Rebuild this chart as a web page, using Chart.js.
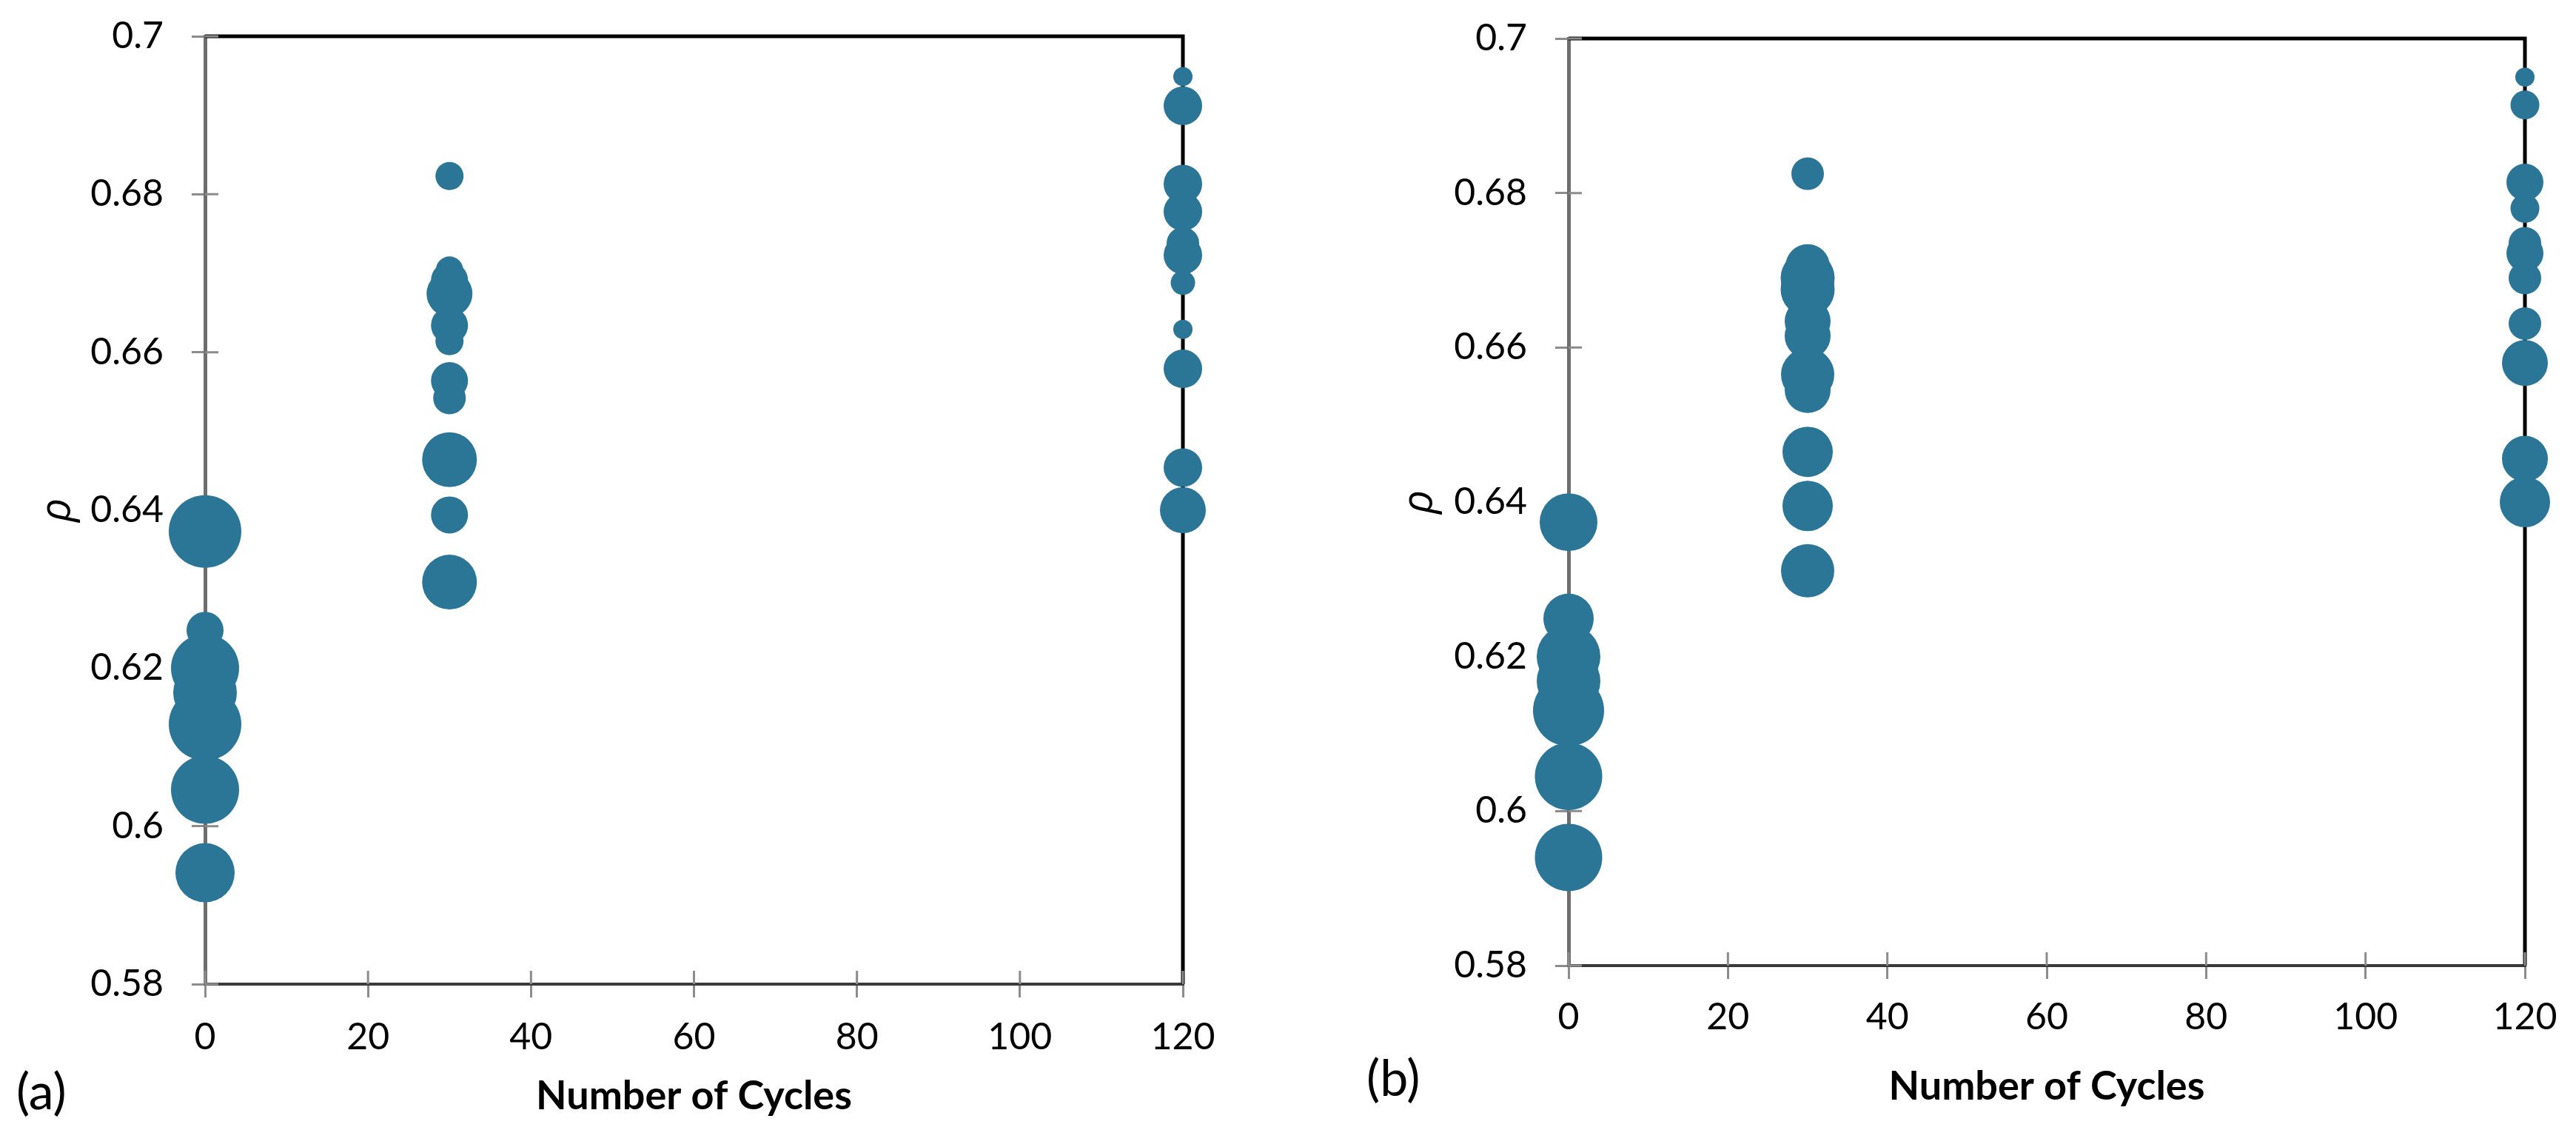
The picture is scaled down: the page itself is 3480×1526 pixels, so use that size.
<!DOCTYPE html>
<html><head><meta charset="utf-8">
<script src="https://cdn.jsdelivr.net/npm/chart.js@4.4.1/dist/chart.umd.min.js"></script>
<style>
html,body{margin:0;padding:0;background:#fff;width:3480px;height:1526px;overflow:hidden;position:relative;}
canvas{position:absolute;top:0;}
#ca{left:0}
#cb{left:1740px}
.lbl{position:absolute;font-family:Lato,'Open Sans',sans-serif;font-size:68px;line-height:1;color:#000;}
</style></head><body>
<canvas id="ca" width="1740" height="1526"></canvas>
<canvas id="cb" width="1740" height="1526"></canvas>
<div class="lbl" style="left:22px;top:1438px">(a)</div>
<div class="lbl" style="left:1846px;top:1420px">(b)</div>
<script>
// ---- data ----
const cycles = [0, 30, 120];
const xTicks = [0, 20, 40, 60, 80, 100, 120];
const yTicks = [0.58, 0.6, 0.62, 0.64, 0.66, 0.68, 0.7];
const xTitle = 'Number of Cycles';
const yTitle = 'ρ';

// panel (a)
const a0Rho   = [0.6373, 0.6248, 0.6200, 0.6169, 0.6129, 0.6046, 0.5941];
const a0Size  = [49, 25, 46, 43, 49, 46, 40];
const a30Rho  = [0.6823, 0.6704, 0.6691, 0.6674, 0.6634, 0.6614, 0.6564, 0.6542, 0.6464, 0.6394, 0.6309];
const a30Size = [19, 18.5, 25, 31, 25, 19, 25, 22, 37, 25, 37];
const a120Rho = [0.6949, 0.6912, 0.6813, 0.6778, 0.6738, 0.6723, 0.6688, 0.6629, 0.6579, 0.6454, 0.6400];
const a120Size= [13, 26, 26, 26, 22, 26, 16.5, 13, 26, 26, 31];

// panel (b)
const b0Rho   = [0.6374, 0.6249, 0.6200, 0.6168, 0.6130, 0.6045, 0.5940];
const b0Size  = [39, 34, 43, 43, 48, 45.5, 45.5];
const b30Rho  = [0.6825, 0.6705, 0.6690, 0.6675, 0.6634, 0.6615, 0.6565, 0.6545, 0.6465, 0.6395, 0.6311];
const b30Size = [22, 30, 36.5, 36.5, 31, 31, 36, 31, 34, 34, 36];
const b120Rho = [0.6950, 0.6914, 0.6814, 0.6780, 0.6735, 0.6722, 0.6690, 0.6631, 0.6580, 0.6456, 0.6400];
const b120Size= [13, 19.5, 25, 19.5, 22, 25, 22, 22, 31, 31, 34];

// ---- chart ----
const RADIUS_SCALE = 1;
const COLOR = '#2b7596';
const FONT = "Lato, 'Open Sans', sans-serif";

function points(groups) {
  const pts = [];
  groups.forEach(([cx, rho, size]) => {
    rho.forEach((v, i) => pts.push({x: cx, y: v, r: size[i] * RADIUS_SCALE}));
  });
  return pts;
}

const frame = {
  id: 'frame',
  beforeDatasetsDraw(chart) {
    const {ctx, chartArea: a, scales: {x, y}} = chart;
    ctx.save();
    // black plot border (top, right)
    ctx.strokeStyle = '#000';
    ctx.lineWidth = 5;
    ctx.beginPath();
    ctx.moveTo(a.left, a.top);
    ctx.lineTo(a.right, a.top);
    ctx.lineTo(a.right, a.bottom);
    ctx.stroke();
    // inner halves of cross ticks
    ctx.strokeStyle = '#8c8c8c';
    ctx.lineWidth = 3;
    ctx.beginPath();
    x.ticks.forEach(t => { const p = x.getPixelForValue(t.value); ctx.moveTo(p, a.bottom); ctx.lineTo(p, a.bottom - 18); });
    y.ticks.forEach(t => { const p = y.getPixelForValue(t.value); ctx.moveTo(a.left, p); ctx.lineTo(a.left + 18, p); });
    ctx.stroke();
    ctx.restore();
  }
};

function noPad(s) { s.paddingTop = 0; s.paddingBottom = 0; s.paddingLeft = 0; s.paddingRight = 0; }

function makeChart(id, data, lay) {
  new Chart(document.getElementById(id), {
    type: 'bubble',
    data: {datasets: [{data: data, backgroundColor: COLOR, borderWidth: 0, clip: false, hoverRadius: 0}]},
    options: {
      responsive: false, animation: false, devicePixelRatio: 1, events: [],
      layout: {padding: {left: 0, top: lay.top, right: lay.right, bottom: 0}},
      plugins: {legend: {display: false}, tooltip: {enabled: false}},
      scales: {
        x: {
          type: 'linear', min: 0, max: 120, position: 'bottom',
          afterBuildTicks: s => { s.ticks = xTicks.map(v => ({value: v})); },
          afterFit: s => { s.height = lay.xh; noPad(s); },
          grid: {display: true, drawOnChartArea: false, drawTicks: true, tickLength: 18, color: '#8c8c8c', lineWidth: 3},
          border: {display: true, color: '#3a3a3a', width: 4},
          ticks: {color: '#000', padding: lay.xpad, font: {family: FONT, size: 50}, callback: v => String(v), maxRotation: 0, autoSkip: false},
          title: {display: true, text: xTitle, color: '#000', font: {family: FONT, size: 54, weight: 'bold'}, padding: {top: 0, bottom: lay.xtpad}}
        },
        y: {
          type: 'linear', min: 0.58, max: 0.7, position: 'left',
          afterBuildTicks: s => { s.ticks = yTicks.map(v => ({value: v})); },
          afterFit: s => { s.width = lay.yw; noPad(s); },
          grid: {display: true, drawOnChartArea: false, drawTicks: true, tickLength: 18, color: '#8c8c8c', lineWidth: 3},
          border: {display: true, color: '#6e6e6e', width: 5},
          ticks: {color: '#000', padding: 38, font: {family: FONT, size: 50}, callback: v => String(v), autoSkip: false},
          title: {display: true, text: yTitle, color: '#000', font: {family: "'Open Sans', 'DejaVu Sans', sans-serif", size: 56, style: 'italic'}, padding: {top: lay.ytpad, bottom: 0}}
        }
      }
    },
    plugins: [frame]
  });
}

makeChart('ca', points([[cycles[0], a0Rho, a0Size], [cycles[1], a30Rho, a30Size], [cycles[2], a120Rho, a120Size]]),
  {top: 41, right: 142, xh: 197, yw: 277, xpad: 24, xtpad: 13, ytpad: 44});
makeChart('cb', points([[cycles[0], b0Rho, b0Size], [cycles[1], b30Rho, b30Size], [cycles[2], b120Rho, b120Size]]),
  {top: 52, right: 69, xh: 222, yw: 379, xpad: 22, xtpad: 26, ytpad: 144});
</script>
</body></html>
